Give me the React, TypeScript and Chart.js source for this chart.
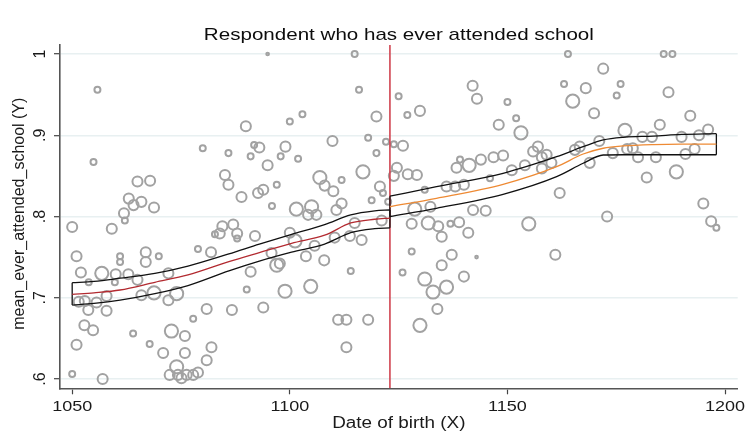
import React, { useEffect, useRef } from "react";
import { Chart, registerables } from "chart.js";

Chart.register(...registerables);

const TITLE = "Respondent who has ever attended school";
const X_TITLE = "Date of birth (X)";
const Y_TITLE = "mean_ever_attended_school (Y)";
const X_TICKS = [1050, 1100, 1150, 1200];
const X_TICK_LABELS = ["1050", "1100", "1150", "1200"];
const Y_TICKS = [0.6, 0.7, 0.8, 0.9, 1];
const Y_TICK_LABELS = [".6", ".7", ".8", ".9", "1"];
const CUTOFF = 1123;
const X_MIN = 1047.2;
const X_MAX = 1202.9;
const Y_MIN = 0.5885;
const Y_MAX = 1.0111;

// binned means (x = date of birth, y = share ever attended school, w = bin size)
const BIRTH = [
  1055.8, 1054.9, 1080.0, 1085.9, 1065.0, 1067.9, 1063.0, 1065.9, 1064.1, 1068.8,
  1061.9, 1062.1, 1085.1, 1085.9, 1050.0, 1059.1, 1051.0, 1061.0, 1061.0, 1066.9,
  1066.9, 1069.9, 1078.9, 1081.9, 1052.0, 1056.8, 1060.0, 1062.9, 1065.0, 1053.8,
  1059.8, 1072.1, 1068.8, 1065.9, 1072.1, 1074.0, 1057.9, 1051.5, 1052.9, 1055.6,
  1053.7, 1057.9, 1080.9, 1077.8, 1052.8, 1054.8, 1064.0, 1072.8, 1075.9, 1051.0,
  1067.8, 1070.9, 1075.9, 1082.0, 1080.9, 1074.0, 1078.9, 1072.4, 1074.3, 1076.3,
  1077.8, 1075.1, 1050.0, 1057.0, 1082.8, 1083.9, 1084.5, 1087.0, 1087.9, 1087.9,
  1092.0, 1086.7, 1089.9, 1091.0, 1091.8, 1093.0, 1094.9, 1097.9, 1099.0, 1101.9,
  1100.0, 1102.9, 1094.9, 1097.0, 1092.7, 1093.9, 1088.9, 1095.9, 1101.5, 1105.0,
  1104.2, 1106.1, 1106.9, 1108.0, 1110.0, 1111.9, 1109.8, 1111.9, 1110.7, 1114.9,
  1115.9, 1118.0, 1119.9, 1119.9, 1116.8, 1122.1, 1120.7, 1121.4, 1118.8, 1122.6,
  1114.9, 1121.1, 1100.0, 1101.2, 1095.8, 1097.0, 1097.7, 1091.0, 1090.1, 1098.9,
  1104.8, 1093.9, 1103.7, 1107.9, 1105.7, 1110.3, 1113.8, 1116.5, 1114.0, 1111.1,
  1113.0, 1118.0, 1113.0, 1125.0, 1127.0, 1129.9, 1123.9, 1126.0, 1124.6, 1123.9,
  1127.1, 1129.2, 1131.0, 1128.7, 1132.3, 1136.0, 1138.0, 1140.0, 1138.3, 1139.1,
  1141.2, 1143.9, 1146.8, 1149.0, 1146.0, 1142.0, 1143.0, 1150.0, 1152.0, 1148.0,
  1153.1, 1151.0, 1154.0, 1155.9, 1157.0, 1157.9, 1159.0, 1160.1, 1157.9, 1162.0,
  1163.9, 1163.0, 1165.0, 1142.1, 1145.0, 1128.0, 1131.8, 1134.1, 1136.9, 1138.9,
  1141.0, 1134.9, 1128.0, 1137.2, 1142.9, 1134.9, 1125.9, 1131.0, 1140.0, 1136.0,
  1132.9, 1133.9, 1129.9, 1154.9, 1161.0, 1168.0, 1172.0, 1169.9, 1176.0, 1175.1,
  1165.5, 1166.6, 1168.9, 1171.1, 1177.0, 1174.2, 1177.5, 1178.8, 1180.0, 1181.0,
  1183.2, 1185.0, 1184.1, 1188.8, 1182.0, 1185.9, 1187.9, 1187.0, 1192.0, 1190.0,
  1194.0, 1196.1, 1190.9, 1193.0, 1195.0, 1172.9, 1196.8, 1198.0,
];

const ATTENDED = [
  0.956, 0.867, 0.884, 0.878, 0.843, 0.844, 0.822, 0.818, 0.814, 0.811,
  0.804, 0.795, 0.851, 0.839, 0.787, 0.785, 0.751, 0.751, 0.744, 0.756,
  0.744, 0.751, 0.760, 0.756, 0.731, 0.730, 0.729, 0.729, 0.722, 0.719,
  0.719, 0.730, 0.706, 0.703, 0.697, 0.705, 0.702, 0.695, 0.696, 0.694,
  0.685, 0.684, 0.686, 0.674, 0.666, 0.660, 0.656, 0.659, 0.653, 0.642,
  0.643, 0.632, 0.632, 0.639, 0.623, 0.615, 0.608, 0.605, 0.605, 0.605,
  0.605, 0.601, 0.606, 0.600, 0.778, 0.779, 0.788, 0.790, 0.779, 0.773,
  0.776, 0.685, 0.911, 0.874, 0.888, 0.885, 0.863, 0.874, 0.886, 0.871,
  0.917, 0.926, 1.000, 0.839, 0.829, 0.833, 0.824, 0.813, 0.809, 0.812,
  0.802, 0.802, 0.848, 0.838, 0.831, 0.845, 0.893, 0.816, 0.808, 1.000,
  0.956, 0.897, 0.923, 0.878, 0.855, 0.892, 0.837, 0.829, 0.820, 0.818,
  0.792, 0.795, 0.780, 0.770, 0.755, 0.740, 0.742, 0.732, 0.710, 0.708,
  0.714, 0.688, 0.751, 0.746, 0.764, 0.774, 0.776, 0.771, 0.733, 0.673,
  0.673, 0.673, 0.639, 0.948, 0.925, 0.930, 0.889, 0.887, 0.860, 0.850,
  0.852, 0.851, 0.833, 0.809, 0.812, 0.837, 0.837, 0.839, 0.860, 0.870,
  0.863, 0.870, 0.873, 0.875, 0.847, 0.961, 0.945, 0.941, 0.921, 0.913,
  0.903, 0.857, 0.863, 0.880, 0.886, 0.873, 0.876, 0.866, 0.859, 0.829,
  1.000, 0.963, 0.942, 0.808, 0.807, 0.791, 0.792, 0.788, 0.791, 0.793,
  0.780, 0.775, 0.757, 0.753, 0.750, 0.740, 0.731, 0.723, 0.726, 0.713,
  0.707, 0.686, 0.666, 0.791, 0.753, 0.958, 0.982, 0.927, 0.963, 0.949,
  0.882, 0.886, 0.866, 0.893, 0.906, 0.878, 0.883, 0.884, 0.873, 0.898,
  0.898, 0.913, 0.873, 0.855, 0.848, 1.000, 1.000, 0.953, 0.924, 0.898,
  0.900, 0.907, 0.877, 0.883, 0.816, 0.800, 0.794, 0.786,
];

const WEIGHTS = [
  10, 10, 10, 10, 28, 28, 28, 28, 28, 28,
  28, 10, 28, 28, 28, 28, 28, 10, 10, 28,
  28, 10, 10, 28, 28, 48, 28, 28, 28, 10,
  10, 28, 48, 28, 28, 48, 28, 28, 28, 28,
  28, 28, 28, 10, 28, 28, 10, 48, 28, 28,
  10, 28, 28, 28, 28, 48, 28, 28, 28, 28,
  28, 28, 10, 28, 10, 28, 28, 28, 28, 10,
  28, 28, 28, 10, 10, 28, 28, 10, 28, 10,
  10, 10, 2, 10, 28, 28, 28, 10, 48, 48,
  28, 28, 48, 28, 28, 10, 28, 28, 28, 10,
  10, 10, 28, 10, 48, 10, 28, 10, 10, 10,
  28, 28, 28, 48, 28, 48, 28, 28, 10, 48,
  48, 28, 28, 28, 28, 28, 28, 28, 10, 28,
  28, 28, 28, 10, 10, 28, 10, 28, 28, 28,
  28, 28, 10, 48, 28, 28, 28, 28, 28, 10,
  48, 28, 28, 28, 10, 28, 28, 10, 10, 28,
  48, 28, 28, 28, 28, 28, 28, 28, 28, 28,
  10, 10, 48, 28, 28, 28, 48, 28, 10, 28,
  28, 28, 10, 28, 2, 28, 10, 48, 28, 48,
  48, 28, 48, 48, 28, 28, 28, 28, 10, 10,
  28, 28, 28, 28, 48, 28, 28, 28, 28, 28,
  28, 28, 28, 48, 28, 10, 10, 28, 28, 28,
  28, 28, 28, 28, 28, 28, 28, 10,
];

// local polynomial fit left of cutoff, with confidence band
const LEFT_X = [1050, 1055, 1061, 1069, 1076.6, 1086, 1093, 1100.4, 1108, 1114, 1119.5, 1123];
const LEFT_FIT = [0.704, 0.706, 0.7095, 0.719, 0.728, 0.7444, 0.7555, 0.767, 0.777, 0.792, 0.7966, 0.798];
const LEFT_UPPER = [0.7185, 0.72, 0.724, 0.73, 0.739, 0.754, 0.766, 0.778, 0.79, 0.802, 0.807, 0.808];
const LEFT_LOWER = [0.691, 0.693, 0.697, 0.705, 0.715, 0.733, 0.745, 0.756, 0.766, 0.78, 0.785, 0.786];

// local polynomial fit right of cutoff, with confidence band
const RIGHT_X = [1123, 1133.7, 1149, 1161.3, 1167.4, 1172, 1176.6, 1183.5, 1190, 1198];
const RIGHT_FIT = [0.812, 0.8224, 0.8396, 0.8613, 0.8769, 0.884, 0.8868, 0.8885, 0.889, 0.889];
const RIGHT_UPPER = [0.825, 0.8367, 0.8532, 0.8736, 0.8859, 0.8942, 0.8975, 0.899, 0.901, 0.902];
const RIGHT_LOWER = [0.8, 0.8101, 0.8273, 0.849, 0.8655, 0.8757, 0.876, 0.876, 0.876, 0.876];

const FONT = '"Liberation Sans", Arial, Helvetica, sans-serif';

function pts(xs: number[], ys: number[]) {
  return xs.map((x, i) => ({ x, y: ys[i] }));
}

function lineDs(data: any[], color: string, width: number, order: number, smooth = true) {
  return {
    type: "scatter" as const,
    data,
    showLine: true,
    borderColor: color,
    borderWidth: width,
    pointRadius: 0,
    pointHoverRadius: 0,
    fill: false,
    order,
    cubicInterpolationMode: smooth ? ("monotone" as const) : ("default" as const),
    tension: 0,
  };
}

function drawStretched(ctx: CanvasRenderingContext2D, text: string, x: number, y: number, size: number, sx: number) {
  ctx.save();
  ctx.translate(x, y);
  ctx.scale(sx, 1);
  ctx.font = `${size}px ${FONT}`;
  ctx.textAlign = "center";
  ctx.textBaseline = "alphabetic";
  ctx.fillText(text, 0, 0);
  ctx.restore();
}

function drawVertical(ctx: CanvasRenderingContext2D, text: string, x: number, y: number, size: number) {
  ctx.save();
  ctx.translate(x, y);
  ctx.rotate(-Math.PI / 2);
  ctx.font = `${size}px ${FONT}`;
  ctx.textAlign = "center";
  ctx.textBaseline = "alphabetic";
  ctx.fillText(text, 0, 0);
  ctx.restore();
}

const textPlugin = {
  id: "stataText",
  afterDraw(chart: any) {
    const ctx = chart.ctx as CanvasRenderingContext2D;
    const area = chart.chartArea;
    const xs = chart.scales.x;
    const ys = chart.scales.y;
    const cx = (area.left + area.right) / 2;
    ctx.save();
    ctx.fillStyle = "#0d0d0d";
    drawStretched(ctx, TITLE, cx, 39.5, 17, 1.21);
    ctx.fillStyle = "#1a1a1a";
    X_TICKS.forEach((v, i) => {
      drawStretched(ctx, X_TICK_LABELS[i], xs.getPixelForValue(v), area.bottom + 22.3, 15, 1.2);
    });
    drawStretched(ctx, X_TITLE, cx, area.bottom + 39.4, 16, 1.18);
    Y_TICKS.forEach((v, i) => {
      drawVertical(ctx, Y_TICK_LABELS[i], area.left - 15, ys.getPixelForValue(v), 16);
    });
    drawVertical(ctx, Y_TITLE, area.left - 36, (area.top + area.bottom) / 2 - 3, 16);
    ctx.restore();
  },
};

export default function App() {
  const ref = useRef<HTMLCanvasElement | null>(null);

  useEffect(() => {
    if (!ref.current) return;
    const scatter = BIRTH.map((x, i) => ({ x, y: ATTENDED[i] }));
    const chart = new Chart(ref.current, {
      type: "scatter",
      data: {
        datasets: [
          {
            type: "scatter",
            data: scatter,
            pointRadius: (c: any) => 0.95 * Math.sqrt(WEIGHTS[c.dataIndex] ?? 10),
            pointHoverRadius: (c: any) => 0.95 * Math.sqrt(WEIGHTS[c.dataIndex] ?? 10),
            pointBackgroundColor: "rgba(0,0,0,0)",
            pointBorderColor: "rgb(162,162,162)",
            pointBorderWidth: 2,
            order: 10,
          } as any,
          lineDs(
            [
              { x: CUTOFF, y: Y_MIN },
              { x: CUTOFF, y: Y_MAX },
            ],
            "rgb(208,68,80)",
            1.6,
            5,
            false
          ),
          lineDs(pts(LEFT_X, LEFT_UPPER), "#111", 1.3, 2),
          lineDs(pts(LEFT_X, LEFT_LOWER), "#111", 1.3, 2),
          lineDs(
            [
              { x: LEFT_X[0], y: LEFT_LOWER[0] },
              { x: LEFT_X[0], y: LEFT_UPPER[0] },
            ],
            "#111",
            1.3,
            2,
            false
          ),
          lineDs(
            [
              { x: LEFT_X[LEFT_X.length - 1], y: LEFT_LOWER[LEFT_LOWER.length - 1] },
              { x: LEFT_X[LEFT_X.length - 1], y: LEFT_UPPER[LEFT_UPPER.length - 1] },
            ],
            "#111",
            1.3,
            2,
            false
          ),
          lineDs(pts(RIGHT_X, RIGHT_UPPER), "#111", 1.3, 2),
          lineDs(pts(RIGHT_X, RIGHT_LOWER), "#111", 1.3, 2),
          lineDs(
            [
              { x: RIGHT_X[0], y: RIGHT_LOWER[0] },
              { x: RIGHT_X[0], y: RIGHT_UPPER[0] },
            ],
            "#111",
            1.3,
            2,
            false
          ),
          lineDs(
            [
              { x: RIGHT_X[RIGHT_X.length - 1], y: RIGHT_LOWER[RIGHT_LOWER.length - 1] },
              { x: RIGHT_X[RIGHT_X.length - 1], y: RIGHT_UPPER[RIGHT_UPPER.length - 1] },
            ],
            "#111",
            1.3,
            2,
            false
          ),
          lineDs(pts(LEFT_X, LEFT_FIT), "rgb(178,42,48)", 1.3, 1),
          lineDs(pts(RIGHT_X, RIGHT_FIT), "rgb(238,138,52)", 1.3, 1),
        ] as any,
      },
      options: {
        responsive: false,
        animation: false,
        devicePixelRatio: 1,
        layout: { padding: { left: 0, right: 13.3, top: 45, bottom: 0 } },
        plugins: {
          legend: { display: false },
          tooltip: { enabled: false },
          title: { display: false },
        },
        events: [],
        scales: {
          x: {
            type: "linear",
            min: X_MIN,
            max: X_MAX,
            afterBuildTicks: (s: any) => {
              s.ticks = X_TICKS.map((v) => ({ value: v }));
            },
            afterFit: (s: any) => {
              s.height = 52.7;
            },
            ticks: { display: false },
            grid: {
              drawOnChartArea: false,
              drawTicks: true,
              tickLength: 6,
              tickColor: "#444",
              tickWidth: 1.2,
            },
            border: { display: true, color: "#555", width: 1.6 },
          },
          y: {
            type: "linear",
            min: Y_MIN,
            max: Y_MAX,
            afterBuildTicks: (s: any) => {
              s.ticks = Y_TICKS.map((v) => ({ value: v }));
            },
            afterFit: (s: any) => {
              s.width = 60;
            },
            ticks: { display: false },
            grid: {
              drawOnChartArea: true,
              color: "#e8f0f1",
              lineWidth: 1.4,
              drawTicks: true,
              tickLength: 6,
              tickColor: "#444",
              tickWidth: 1.2,
            },
            border: { display: true, color: "#555", width: 1.6 },
          },
        },
      } as any,
      plugins: [textPlugin],
    });
    return () => chart.destroy();
  }, []);

  return (
    <div style={{ position: "fixed", left: 0, top: 0, width: 751, height: 441, background: "#fff" }}>
      <canvas ref={ref} width={751} height={441} style={{ width: 751, height: 441, display: "block" }} />
    </div>
  );
}
